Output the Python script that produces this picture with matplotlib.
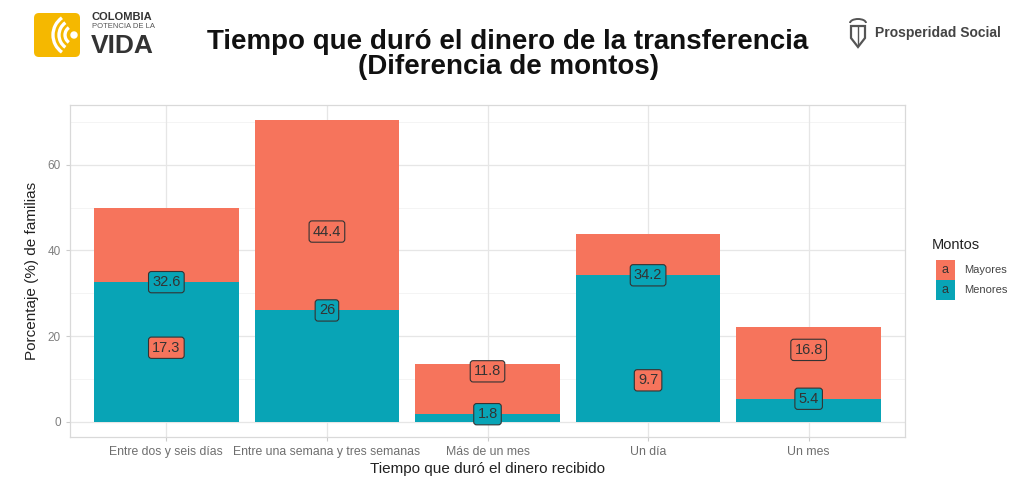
import matplotlib
matplotlib.use("Agg")
import matplotlib.pyplot as plt
from matplotlib.patches import FancyBboxPatch, Rectangle, Arc, Wedge, Polygon
import numpy as np

categories = ["Entre dos y seis días", "Entre una semana y tres semanas",
              "Más de un mes", "Un día", "Un mes"]
menores = [32.6, 26.0, 1.8, 34.2, 5.4]
mayores = [17.3, 44.4, 11.8, 9.7, 16.8]
menores_labels = ["32.6", "26", "1.8", "34.2", "5.4"]
mayores_labels = ["17.3", "44.4", "11.8", "9.7", "16.8"]
yticks = [0, 20, 40, 60]

RED = "#F6745C"
TEAL = "#08A4B6"
GRID = "#E6E6E6"

plt.rcParams['font.family'] = ['Liberation Sans', 'DejaVu Sans']

fig = plt.figure(figsize=(10.28, 4.83), dpi=100)
ax = fig.add_axes([70/1028, (483-437)/483, (905-70)/1028, (437-105)/483])

x = np.arange(1, len(categories) + 1)
ax.bar(x, menores, width=0.9, color=TEAL, zorder=2)
ax.bar(x, mayores, width=0.9, bottom=menores, color=RED, zorder=2)

tot = max(a + b for a, b in zip(menores, mayores))
ax.set_ylim(-0.05 * tot, tot * 1.05)
ax.set_xlim(0.4, len(categories) + 0.6)

# grid
for v in yticks:
    ax.axhline(v, color=GRID, lw=0.9, zorder=0)
for v in [10, 30, 50, 70]:
    ax.axhline(v, color="#F2F2F2", lw=0.6, zorder=0)
for v in x:
    ax.axvline(v, color=GRID, lw=0.9, zorder=0)

for s in ax.spines.values():
    s.set_color("#D9D9D9")
    s.set_linewidth(0.9)

ax.set_yticks(yticks)
ax.set_yticklabels([str(v) for v in yticks], color="#7F7F7F", fontsize=8.5)
ax.set_xticks(x)
ax.set_xticklabels(categories, color="#6E6E6E", fontsize=8.8)
ax.tick_params(axis='both', color="#CCCCCC", length=3)

ax.set_ylabel("Porcentaje (%) de familias", fontsize=11, color="#222222", labelpad=6)
ax.set_xlabel("Tiempo que duró el dinero recibido", fontsize=11, color="#222222", labelpad=3)

def lab(xx, yy, txt, fc):
    ax.text(xx, yy, txt, ha="center", va="center", fontsize=10.5, color="#333333", zorder=5,
            bbox=dict(boxstyle="round,pad=0.25,rounding_size=0.2", fc=fc, ec="#333333", lw=0.8))

for i in range(len(categories)):
    lab(x[i], mayores[i], mayores_labels[i], RED)
    lab(x[i], menores[i], menores_labels[i], TEAL)

# legend
fig.text(932/1028, 1 - 245/483, "Montos", fontsize=10.5, color="#222222", va="center")
for j, (name, col) in enumerate([("Mayores", RED), ("Menores", TEAL)]):
    yc = 270 + j * 20
    r = Rectangle((936/1028, 1 - (yc + 10)/483), 19/1028, 20/483, transform=fig.transFigure,
                  fc=col, ec="none")
    fig.add_artist(r)
    fig.text(945.5/1028, 1 - yc/483, "a", fontsize=9, color="#333333", ha="center", va="center")
    fig.text(964/1028, 1 - yc/483, name, fontsize=8, color="#444444", va="center")

# title
fig.text(508/1028, 1 - 42/483, "Tiempo que duró el dinero de la transferencia",
         fontsize=20, fontweight="bold", ha="center", va="center", color="#111111")
fig.text(508/1028, 1 - 67/483, "(Diferencia de montos)",
         fontsize=20, fontweight="bold", ha="center", va="center", color="#111111")

# Colombia logo
lax = fig.add_axes([34/1028, 1 - 57/483, 46/1028, 44/483])
lax.set_xlim(0, 46); lax.set_ylim(0, 44); lax.axis("off")
lax.add_patch(FancyBboxPatch((0, 0), 46, 44, boxstyle="round,pad=0,rounding_size=5",
                             fc="#F5B800", ec="none"))
for rr in [9, 15, 21]:
    lax.add_patch(Arc((40, 22), rr * 2, rr * 2, theta1=125, theta2=235, color="white", lw=2.4))
lax.add_patch(Wedge((40, 22), 3, 0, 360, color="white"))
fig.text(92/1028, 1 - 17/483, "COLOMBIA", fontsize=8, fontweight="bold", color="#333333", va="center")
fig.text(92/1028, 1 - 27/483, "POTENCIA DE LA", fontsize=5.5, color="#555555", va="center")
fig.text(91/1028, 1 - 46/483, "VIDA", fontsize=19, fontweight="bold", color="#333333", va="center")

# Prosperidad Social shield
sax = fig.add_axes([846/1028, 1 - 50/483, 24/1028, 32/483])
sax.set_xlim(0, 24); sax.set_ylim(0, 32); sax.axis("off")
sax.add_patch(Polygon([[5, 24], [19, 24], [19, 12], [12, 3], [5, 12]], closed=True,
                      fc="none", ec="#555555", lw=1.6))
sax.add_patch(Arc((12, 27), 16, 8, theta1=0, theta2=180, color="#555555", lw=1.4))
sax.plot([12, 12], [6, 24], color="#555555", lw=1.0)
fig.text(875/1028, 1 - 33/483, "Prosperidad Social", fontsize=10, fontweight="bold",
         color="#444444", va="center")

fig.savefig("out.png", dpi=100, facecolor="white")
